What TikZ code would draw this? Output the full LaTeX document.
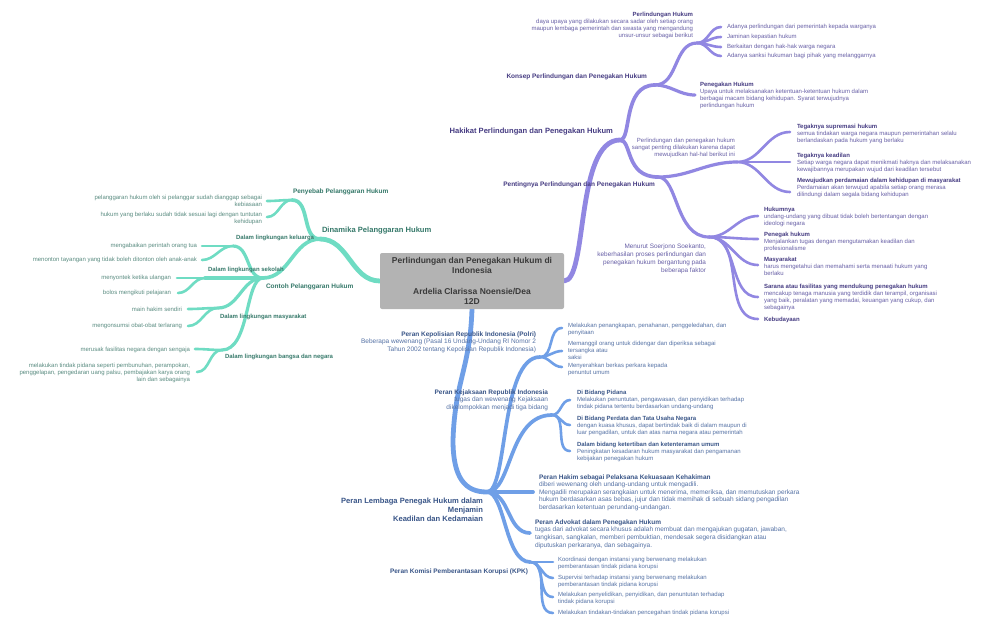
\documentclass[tikz,border=0pt]{standalone}
\usepackage{fontspec}
\setmainfont{Liberation Sans}
\usetikzlibrary{backgrounds}
\definecolor{pline}{HTML}{9187E2}
\definecolor{ptit}{HTML}{463C82}
\definecolor{pdes}{HTML}{675FA6}
\definecolor{tline}{HTML}{6FDCC3}
\definecolor{ttit}{HTML}{36796A}
\definecolor{tdes}{HTML}{5A8C81}
\definecolor{bline}{HTML}{6F9FE7}
\definecolor{btit}{HTML}{3A5688}
\definecolor{bdes}{HTML}{5572A5}
\definecolor{rootfill}{HTML}{B3B3B3}
\definecolor{roottext}{HTML}{3A3A3A}
\newcommand{\fsz}[2]{\fontsize{#1}{#2}\selectfont}
\begin{document}
\begin{tikzpicture}[x=1pt,y=-1pt,
  txt/.style={inner sep=0pt,outer sep=0pt},
  lvA/.style={line width=4.8pt,line cap=round},
  lvB/.style={line width=3.7pt,line cap=round},
  lvC/.style={line width=3.2pt,line cap=round},
  lvD/.style={line width=2.6pt,line cap=round},
  tA/.style={txt,font=\fsz{7.6}{9}\bfseries},
  tB/.style={txt,font=\fsz{6.5}{8}\bfseries},
  tS/.style={txt,font=\fsz{6}{7}\bfseries},
  lf/.style={txt,font=\fsz{6}{7}},
  dsc/.style={txt,font=\fsz{6.5}{7.6}},
]
\useasboundingbox (0,0) rectangle (1004,630);

% ---------- root ----------
\node[txt,fill=rootfill,rounded corners=2pt,minimum width=184pt,minimum height=56pt,
  align=center,font=\fsz{8.5}{10.3}\bfseries,text=roottext] (root) at (472,281)
  {Perlindungan dan Penegakan Hukum di\\Indonesia\\\mbox{}\\Ardelia Clarissa Noensie/Dea\\12D};

% ---------- purple branch ----------
\coordinate (jHak) at (620,140);
\coordinate (jKon) at (655,85);
\coordinate (jPH) at (697,43);
\coordinate (ePH1) at (721,27);
\coordinate (ePH2) at (721,37);
\coordinate (ePH3) at (721,47);
\coordinate (ePH4) at (721,56);
\coordinate (ePen) at (695,95);
\coordinate (jPent) at (658,177);
\coordinate (jPP) at (737,162);
\coordinate (eT1) at (790,132);
\coordinate (eT2) at (790,162);
\coordinate (eT3) at (790,192);
\coordinate (jMen) at (709,237);
\coordinate (eF1) at (758,216);
\coordinate (eF2) at (758,239);
\coordinate (eF3) at (758,265);
\coordinate (eF4) at (758,297);
\coordinate (eF5) at (758,319);

\node[tA,text=ptit,anchor=east] (hak) at (613,132) {Hakikat Perlindungan dan Penegakan Hukum};
\node[tB,text=ptit,anchor=east] (kon) at (647,77) {Konsep Perlindungan dan Penegakan Hukum};
\node[tB,text=ptit,anchor=east] (pent) at (655,185) {Pentingnya Perlindungan dan Penegakan Hukum};
\node[lf,text=pdes,anchor=north east,align=right] (phd) at (693,11.8)
  {\textcolor{ptit}{\bfseries Perlindungan Hukum}\\daya upaya yang dilakukan secara sadar oleh setiap orang\\maupun lembaga pemerintah dan swasta yang mengandung\\unsur-unsur sebagai berikut};
\node[lf,text=pdes,anchor=west] (ph1) at (727,27) {Adanya perlindungan dari pemerintah kepada warganya};
\node[lf,text=pdes,anchor=west] (ph2) at (727,37) {Jaminan kepastian hukum};
\node[lf,text=pdes,anchor=west] (ph3) at (727,47) {Berkaitan dengan hak-hak warga negara};
\node[lf,text=pdes,anchor=west] (ph4) at (727,56) {Adanya sanksi hukuman bagi pihak yang melanggarnya};
\node[lf,text=pdes,anchor=north west,align=left] (pgh) at (700,81.8)
  {\textcolor{ptit}{\bfseries Penegakan Hukum}\\Upaya untuk melaksanakan ketentuan-ketentuan hukum dalam\\berbagai macam bidang kehidupan. Syarat terwujudnya\\perlindungan hukum};
\node[lf,text=pdes,anchor=north east,align=right] (ppd) at (735,137.8)
  {Perlindungan dan penegakan hukum\\sangat penting dilakukan karena dapat\\mewujudkan hal-hal berikut ini};
\node[lf,text=pdes,anchor=north west,align=left] (ts) at (797,123.8)
  {\textcolor{ptit}{\bfseries Tegaknya supremasi hukum}\\semua tindakan warga negara maupun pemerintahan selalu\\berlandaskan pada hukum yang berlaku};
\node[lf,text=pdes,anchor=north west,align=left] (tk) at (797,152.8)
  {\textcolor{ptit}{\bfseries Tegaknya keadilan}\\Setiap warga negara dapat menikmati haknya dan melaksanakan\\kewajibannya merupakan wujud dari keadilan tersebut};
\node[lf,text=pdes,anchor=north west,align=left] (mp) at (797,177.8)
  {\textcolor{ptit}{\bfseries Mewujudkan perdamaian dalam kehidupan di masyarakat}\\Perdamaian akan terwujud apabila setiap orang merasa\\dilindungi dalam segala bidang kehidupan};
\node[txt,font=\fsz{6.4}{8},text=pdes,anchor=north east,align=right] (men) at (706,243.6)
  {Menurut Soerjono Soekanto,\\keberhasilan proses perlindungan dan\\penegakan hukum bergantung pada\\beberapa faktor};
\node[lf,text=pdes,anchor=north west,align=left] (f1) at (764,206.8)
  {\textcolor{ptit}{\bfseries Hukumnya}\\undang-undang yang dibuat tidak boleh bertentangan dengan\\ideologi negara};
\node[lf,text=pdes,anchor=north west,align=left] (f2) at (764,231.8)
  {\textcolor{ptit}{\bfseries Penegak hukum}\\Menjalankan tugas dengan mengutamakan keadilan dan\\profesionalisme};
\node[lf,text=pdes,anchor=north west,align=left] (f3) at (764,256.8)
  {\textcolor{ptit}{\bfseries Masyarakat}\\harus mengetahui dan memahami serta menaati hukum yang\\berlaku};
\node[lf,text=pdes,anchor=north west,align=left] (f4) at (764,283.8)
  {\textcolor{ptit}{\bfseries Sarana atau fasilitas yang mendukung penegakan hukum}\\mencakup tenaga manusia yang terdidik dan terampil, organisasi\\yang baik, peralatan yang memadai, keuangan yang cukup, dan\\sebagainya};
\node[tS,text=ptit,anchor=west] (f5) at (764,320) {Kebudayaan};

% ---------- teal branch ----------
\coordinate (jDin) at (320,239);
\coordinate (jPny) at (292,200);
\coordinate (ePy1) at (267,201);
\coordinate (ePy2) at (267,217);
\coordinate (jCon) at (263,278);
\coordinate (jKel) at (233,246);
\coordinate (eK1) at (202,246);
\coordinate (eK2) at (202,260);
\coordinate (jSek) at (205,278);
\coordinate (eS1) at (177,278);
\coordinate (eS2) at (178,293);
\coordinate (jMas) at (218,308);
\coordinate (eM1) at (188,309);
\coordinate (eM2) at (188,326);
\coordinate (jBan) at (222,350);
\coordinate (eB1) at (195,349);
\coordinate (eB2) at (197,372);

\node[tA,text=ttit,anchor=west] (din) at (322,231) {Dinamika Pelanggaran Hukum};
\node[tB,text=ttit,anchor=west] (pny) at (293,192) {Penyebab Pelanggaran Hukum};
\node[tB,text=ttit,anchor=west] (con) at (266,287) {Contoh Pelanggaran Hukum};
\node[tS,text=ttit,anchor=west] (kel) at (236,238) {Dalam lingkungan keluarga};
\node[tS,text=ttit,anchor=west] (sek) at (208,270) {Dalam lingkungan sekolah};
\node[tS,text=ttit,anchor=west] (mas) at (220,317) {Dalam lingkungan masyarakat};
\node[tS,text=ttit,anchor=west] (ban) at (225,357) {Dalam lingkungan bangsa dan negara};
\node[lf,text=tdes,anchor=north east,align=right] (py1) at (262,194.8)
  {pelanggaran hukum oleh si pelanggar sudah dianggap sebagai\\kebiasaan};
\node[lf,text=tdes,anchor=north east,align=right] (py2) at (262,211.8)
  {hukum yang berlaku sudah tidak sesuai lagi dengan tuntutan\\kehidupan};
\node[lf,text=tdes,anchor=east] (k1) at (197,246) {mengabaikan perintah orang tua};
\node[lf,text=tdes,anchor=east] (k2) at (197,260) {menonton tayangan yang tidak boleh ditonton oleh anak-anak};
\node[lf,text=tdes,anchor=east] (s1) at (171,278) {menyontek ketika ulangan};
\node[lf,text=tdes,anchor=east] (s2) at (171,293) {bolos mengikuti pelajaran};
\node[lf,text=tdes,anchor=east] (m1) at (182,309) {main hakim sendiri};
\node[lf,text=tdes,anchor=east] (m2) at (182,326) {mengonsumsi obat-obat terlarang};
\node[lf,text=tdes,anchor=east] (b1) at (190,350) {merusak fasilitas negara dengan sengaja};
\node[lf,text=tdes,anchor=north east,align=right] (b2) at (190,362.8)
  {melakukan tindak pidana seperti pembunuhan, perampokan,\\penggelapan, pengedaran uang palsu, pembajakan karya orang\\lain dan sebagainya};

% ---------- blue branch ----------
\coordinate (bMid) at (453,440);
\coordinate (jPer) at (487,492);
\coordinate (jPol) at (540,357);
\coordinate (ePo1) at (562,328);
\coordinate (ePo2) at (562,351);
\coordinate (ePo3) at (562,367);
\coordinate (jKej) at (552,415);
\coordinate (eKj1) at (570,400);
\coordinate (eKj2) at (570,425);
\coordinate (eKj3) at (570,451);
\coordinate (eHak) at (533,492);
\coordinate (eAdv) at (530,533);
\coordinate (jKPK) at (530,562);
\coordinate (eKP1) at (553,562);
\coordinate (eKP2) at (553,578);
\coordinate (eKP3) at (553,597);
\coordinate (eKP4) at (553,613);

\node[txt,font=\fsz{7.6}{9}\bfseries,text=btit,anchor=north east,align=right] (lem) at (483,498.2)
  {Peran Lembaga Penegak Hukum dalam\\Menjamin\\Keadilan dan Kedamaian};
\node[dsc,text=bdes,anchor=north east,align=right] (pol) at (536,331.6)
  {\textcolor{btit}{\bfseries Peran Kepolisian Republik Indonesia (Polri)}\\Beberapa wewenang (Pasal 16 Undang-Undang RI Nomor 2\\Tahun 2002 tentang Kepolisian Republik Indonesia)};
\node[lf,text=bdes,anchor=north west,align=left] (po1) at (568,323.5)
  {Melakukan penangkapan, penahanan, penggeledahan, dan\\penyitaan};
\node[lf,text=bdes,anchor=north west,align=left] (po2) at (568,341.6)
  {Memanggil orang untuk didengar dan diperiksa sebagai\\tersangka atau\\saksi};
\node[lf,text=bdes,anchor=north west,align=left] (po3) at (568,363.5)
  {Menyerahkan berkas perkara kepada\\penuntut umum};
\node[dsc,text=bdes,anchor=north east,align=right] (kej) at (548,389.6)
  {\textcolor{btit}{\bfseries Peran Kejaksaan Republik Indonesia}\\tugas dan wewenang Kejaksaan\\dikelompokkan menjadi tiga bidang};
\node[lf,text=bdes,anchor=north west,align=left] (kj1) at (577,389.8)
  {\textcolor{btit}{\bfseries Di Bidang Pidana}\\Melakukan penuntutan, pengawasan, dan penyidikan terhadap\\tindak pidana tertentu berdasarkan undang-undang};
\node[lf,text=bdes,anchor=north west,align=left] (kj2) at (577,416.3)
  {\textcolor{btit}{\bfseries Di Bidang Perdata dan Tata Usaha Negara}\\dengan kuasa khusus, dapat bertindak baik di dalam maupun di\\luar pengadilan, untuk dan atas nama negara atau pemerintah};
\node[lf,text=bdes,anchor=north west,align=left] (kj3) at (577,441.8)
  {\textcolor{btit}{\bfseries Dalam bidang ketertiban dan ketenteraman umum}\\Peningkatan kesadaran hukum masyarakat dan pengamanan\\kebijakan penegakan hukum};
\node[dsc,text=bdes,anchor=north west,align=left] (hkm) at (539,474.4)
  {\textcolor{btit}{\bfseries Peran Hakim sebagai Pelaksana Kekuasaan Kehakiman}\\diberi wewenang oleh undang-undang untuk mengadili.\\Mengadili merupakan serangkaian untuk menerima, memeriksa, dan memutuskan perkara\\hukum berdasarkan asas bebas, jujur dan tidak memihak di sebuah sidang pengadilan\\berdasarkan ketentuan perundang-undangan.};
\node[txt,font=\fsz{6.5}{7.8},text=bdes,anchor=north west,align=left] (adv) at (535,519.3)
  {\textcolor{btit}{\bfseries Peran Advokat dalam Penegakan Hukum}\\tugas dari advokat secara khusus adalah membuat dan mengajukan gugatan, jawaban,\\tangkisan, sangkalan, memberi pembuktian, mendesak segera disidangkan atau\\diputuskan perkaranya, dan sebagainya.};
\node[tB,text=btit,anchor=east] (kpk) at (528,572) {Peran Komisi Pemberantasan Korupsi (KPK)};
\node[lf,text=bdes,anchor=north west,align=left] (kp1) at (558,557)
  {Koordinasi dengan instansi yang berwenang melakukan\\pemberantasan tindak pidana korupsi};
\node[lf,text=bdes,anchor=north west,align=left] (kp2) at (558,575)
  {Supervisi terhadap instansi yang berwenang melakukan\\pemberantasan tindak pidana korupsi};
\node[lf,text=bdes,anchor=north west,align=left] (kp3) at (558,592)
  {Melakukan penyelidikan, penyidikan, dan penuntutan terhadap\\tindak pidana korupsi};
\node[lf,text=bdes,anchor=west] (kp4) at (558,613) {Melakukan tindakan-tindakan pencegahan tindak pidana korupsi};

% ---------- connectors ----------
\begin{scope}[on background layer]
\fill[white] (0,0) rectangle (1004,630);
% purple
\draw[lvA,pline] (root.east) .. controls +(24,0) and +(-45,0) .. (jHak);
\draw[lvB,pline] (jHak) .. controls +(12,0) and +(-33,0) .. (jKon);
\draw[lvB,pline] (jHak) .. controls +(12,0) and +(-33,0) .. (jPent);
\draw[lvC,pline] (jKon) to[out=0,in=180] (jPH);
\draw[lvC,pline] (jKon) to[out=0,in=180] (ePen);
\foreach \e in {ePH1,ePH2,ePH3,ePH4} \draw[lvD,pline] (jPH) to[out=0,in=180] (\e);
\draw[lvC,pline] (jPent) to[out=0,in=180] (jPP);
\foreach \e in {eT1,eT2,eT3} \draw[lvD,pline] (jPP) to[out=0,in=180] (\e);
\draw[lvC,pline] (jPent) .. controls +(20,0) and +(-34,0) .. (jMen);
\foreach \e in {eF1,eF2,eF3,eF4,eF5} \draw[lvD,pline] (jMen) to[out=0,in=180] (\e);
% teal
\draw[lvA,tline] (root.west) to[out=180,in=0] (jDin);
\draw[lvB,tline] (jDin) to[out=180,in=0] (jPny);
\draw[lvB,tline] (jDin) to[out=180,in=0] (jCon);
\foreach \e in {ePy1,ePy2} \draw[lvD,tline] (jPny) to[out=180,in=0] (\e);
\draw[lvC,tline] (jCon) to[out=180,in=0] (jKel);
\draw[lvC,tline] (jCon) -- (jSek);
\draw[lvC,tline] (jCon) to[out=180,in=0] (jMas);
\draw[lvC,tline] (jCon) .. controls +(-18,0) and +(28,0) .. (jBan);
\foreach \e in {eK1,eK2} \draw[lvD,tline] (jKel) to[out=180,in=0] (\e);
\foreach \e in {eS1,eS2} \draw[lvD,tline] (jSek) to[out=180,in=0] (\e);
\foreach \e in {eM1,eM2} \draw[lvD,tline] (jMas) to[out=180,in=0] (\e);
\foreach \e in {eB1,eB2} \draw[lvD,tline] (jBan) to[out=180,in=0] (\e);
% blue
\draw[lvA,bline] (root.south) .. controls +(-2,60) and +(2,-60) .. (bMid)
  .. controls +(0,38) and +(-22,0) .. (jPer);
\draw[lvB,bline] (jPer) .. controls +(21,0) and +(-40,0) .. (jPol);
\draw[lvB,bline] (jPer) .. controls +(25,0) and +(-44,0) .. (jKej);
\draw[lvB,bline] (jPer) -- (eHak);
\draw[lvB,bline] (jPer) to[out=0,in=180] (eAdv);
\draw[lvB,bline] (jPer) .. controls +(18,0) and +(-25,0) .. (jKPK);
\foreach \e in {ePo1,ePo2,ePo3} \draw[lvD,bline] (jPol) to[out=0,in=180] (\e);
\foreach \e in {eKj1,eKj2,eKj3} \draw[lvD,bline] (jKej) to[out=0,in=180] (\e);
\foreach \e in {eKP1,eKP2,eKP3,eKP4} \draw[lvD,bline] (jKPK) to[out=0,in=180] (\e);
\end{scope}
\end{tikzpicture}
\end{document}
